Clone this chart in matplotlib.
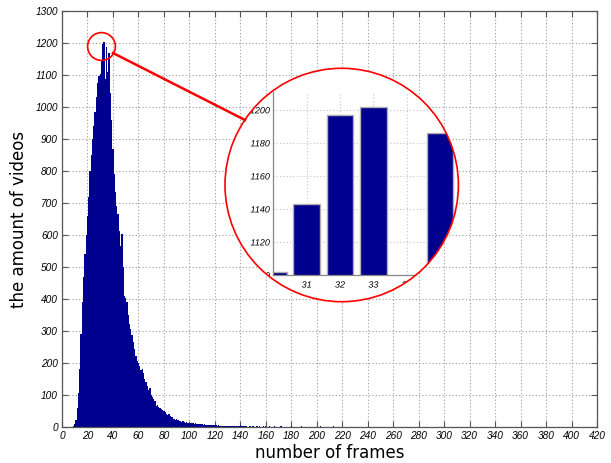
#!/usr/bin/env python3
# coding: utf-8

import numpy as np
import matplotlib
matplotlib.use("Agg")
import matplotlib.pyplot as plt
import matplotlib.patheffects as pe
from matplotlib.patches import Circle
from matplotlib.lines import Line2D

# histogram counts, one bin per frame, frames 0..143
counts_main = [
    0, 0, 0, 0, 0, 0, 0, 0, 1, 3,                                  # 0-9
    8, 22, 58, 105, 180, 290, 390, 470, 540, 600,                   # 10-19
    660, 720, 800, 850, 900, 940, 985, 1030, 1075, 1098,            # 20-29
    1102, 1143, 1197, 1202, 1088, 1186, 1108, 1168, 1045, 960,      # 30-39
    870, 790, 735, 690, 665, 612, 565, 604, 500, 408,               # 40-49
    402, 392, 350, 322, 306, 288, 265, 244, 222, 206,               # 50-59
    199, 191, 178, 182, 168, 150, 140, 128, 116, 122,               # 60-69
    100, 95, 86, 80, 66, 70, 62, 60, 56, 53,                        # 70-79
    50, 47, 42, 38, 40, 33, 30, 31, 26, 23,                         # 80-89
    24, 21, 19, 18, 17, 18, 15, 14, 15, 13,                         # 90-99
    12, 13, 12, 11, 10, 11, 10, 9, 9, 8,                            # 100-109
    8, 7, 8, 6, 7, 6, 6, 5, 6, 6,                                   # 110-119
    5, 5, 4, 5, 4, 4, 3, 4, 3, 3,                                   # 120-129
    3, 2, 3, 3, 2, 3, 4, 3, 4, 4,                                   # 130-139
    5, 3, 2, 2,                                                     # 140-143
]

# sparse tail of the histogram
tail_frames = [144, 145, 147, 148, 150, 152, 153, 155, 157, 158, 160, 161, 163,
               165, 167, 170, 172, 175, 178, 180, 182, 185, 188, 190, 193, 196,
               200, 203, 207, 210, 213, 217, 222, 228, 235, 241, 248, 255, 262,
               270, 281, 290, 302, 318, 335, 352, 371, 389, 404]
tail_counts = [2, 3, 2, 2, 2, 1, 2, 2, 1, 2, 3, 1, 2,
               1, 2, 1, 2, 1, 1, 2, 1, 1, 2, 1, 1, 1,
               1, 2, 1, 1, 2, 1, 1, 1, 1, 1, 1, 1, 1,
               1, 1, 1, 1, 1, 1, 1, 1, 1, 1]

# bins shown in the magnified view
zoom_frames = [30, 31, 32, 33, 34, 35]
zoom_counts = [1102, 1143, 1197, 1202, 1088, 1186]

x_ticks = list(range(0, 421, 20))
y_ticks = list(range(0, 1301, 100))
zoom_x_ticks = [30, 31, 32, 33, 34]
zoom_y_ticks = [1100, 1120, 1140, 1160, 1180, 1200]

navy = "#00008f"
axis_gray = "#555555"
grid_kw = dict(color="#9a9a9a", linestyle=(0, (1, 2)), linewidth=0.8)
tick_font = dict(family="Liberation Sans", style="italic", size=7.3)

# full per-frame histogram (frames 0..420)
n_bins = 421
hist = np.zeros(n_bins)
hist[:len(counts_main)] = counts_main
hist[tail_frames] = tail_counts
edges = np.arange(n_bins + 1) - 0.5

fig = plt.figure(figsize=(6.11, 4.63), dpi=100)
ax = fig.add_axes([62 / 611, 36 / 463, 535 / 611, 416 / 463])

ax.stairs(hist, edges, fill=True, color=navy, zorder=2)

ax.set_xlim(0, 420)
ax.set_ylim(0, 1300)
ax.set_xticks(x_ticks)
ax.set_yticks(y_ticks)
ax.set_xticklabels([str(v) for v in x_ticks], fontdict=tick_font)
ax.set_yticklabels([str(v) for v in y_ticks], fontdict=tick_font)
ax.tick_params(direction="in", length=4, width=0.8, color=axis_gray,
               top=True, right=True, pad=3)
for s in ax.spines.values():
    s.set_color(axis_gray)
    s.set_linewidth(0.9)
ax.grid(True, **grid_kw)
ax.set_axisbelow(True)

ax.set_xlabel("number of frames", fontsize=12, family="DejaVu Sans", labelpad=2)
ax.set_ylabel("the amount of videos", fontsize=12, family="DejaVu Sans", labelpad=5)

# small circle around the peak
zoom_center = (30.6, 1190)
ax.plot([zoom_center[0]], [zoom_center[1]], "o", ms=20, mfc="none", mec="red",
        mew=1.2, clip_on=False, zorder=5)

# magnified view inside a big circle (positions in inches)
circ_xy = (3.417, 2.78)
circ_r = 1.167
bg = Circle(circ_xy, circ_r, transform=fig.dpi_scale_trans, facecolor="white",
            edgecolor="none", zorder=1)
fig.patches.append(bg)

ax2 = fig.add_axes([273.3 / 611, (463 - 275) / 463, 196.7 / 611, 183.3 / 463])
ax2.set_zorder(2)
clip = Circle(circ_xy, circ_r, transform=fig.dpi_scale_trans)

ax2.bar(zoom_frames, zoom_counts, width=0.8, color=navy, edgecolor="#b0b0b0",
        linewidth=1.0, zorder=2)
ax2.set_xlim(30, 35.9)
ax2.set_ylim(1100, 1211)
ax2.set_xticks(zoom_x_ticks)
ax2.set_yticks(zoom_y_ticks)
small_font = dict(family="Liberation Sans", style="italic", size=6.5)
ax2.set_xticklabels([str(v) for v in zoom_x_ticks], fontdict=small_font)
ax2.set_yticklabels([str(v) for v in zoom_y_ticks], fontdict=small_font)
ax2.tick_params(axis="y", direction="in", length=0, pad=2.5)
ax2.tick_params(axis="x", direction="in", length=0, pad=4)
ax2.spines["top"].set_visible(False)
ax2.spines["right"].set_visible(False)
for s in ax2.spines.values():
    s.set_color("#888888")
    s.set_linewidth(0.9)
ax2.grid(True, color="#c4c4c4", linestyle=(0, (1, 2)), linewidth=0.8)
ax2.set_axisbelow(True)

for art in ax2.patches + ax2.lines + list(ax2.spines.values()) + [ax2.patch]:
    art.set_clip_path(clip)
for tick in ax2.xaxis.get_major_ticks() + ax2.yaxis.get_major_ticks():
    # path effects make the text go through draw_path, so the circle clips it
    tick.label1.set_path_effects([pe.Normal()])
    for part in (tick.label1, tick.gridline, tick.tick1line):
        part.set_clip_on(True)
        part.set_clip_path(clip)

ring = Circle(circ_xy, circ_r, transform=fig.dpi_scale_trans, facecolor="none",
              edgecolor="red", linewidth=1.2, zorder=3)
fig.patches.append(ring)

# connecting line from the small circle to the big one (inches)
link = Line2D([1.13, 2.45], [4.10, 3.43], transform=fig.dpi_scale_trans,
              color="red", linewidth=1.8, zorder=3)
fig.lines.append(link)

fig.savefig("out.png", dpi=100)
